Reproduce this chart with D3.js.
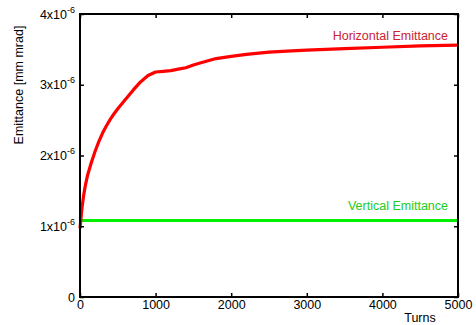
<html>
<head>
<script src="https://d3js.org/d3.v7.min.js"></script>
<style>
body { margin: 0; background: #fff; }
text { font-family: "Liberation Sans", Arial, sans-serif; }
</style>
</head>
<body>
<div id="chart"></div>
<script>
// Data (emittance in units of 1e-6 mm mrad)
var turns = [0, 25, 50, 75, 100, 150, 200, 250, 300, 350, 400, 450, 500, 600, 700, 800, 900, 1000, 1100, 1200, 1300, 1400, 1500, 1600, 1800, 2000, 2200, 2500, 2800, 3000, 3500, 4000, 4500, 5000];
var horizontal = [0.97, 1.25, 1.45, 1.60, 1.72, 1.90, 2.06, 2.20, 2.32, 2.42, 2.51, 2.59, 2.66, 2.79, 2.92, 3.04, 3.13, 3.18, 3.19, 3.20, 3.22, 3.24, 3.28, 3.31, 3.37, 3.40, 3.43, 3.46, 3.48, 3.49, 3.51, 3.53, 3.55, 3.56];
var vertical = [1.08, 1.08, 1.08, 1.08, 1.08, 1.08, 1.08, 1.08, 1.08, 1.08, 1.08, 1.08, 1.08, 1.08, 1.08, 1.08, 1.08, 1.08, 1.08, 1.08, 1.08, 1.08, 1.08, 1.08, 1.08, 1.08, 1.08, 1.08, 1.08, 1.08, 1.08, 1.08, 1.08, 1.08];
var xTicks = [0, 1000, 2000, 3000, 4000, 5000];
var yTicks = [0, 1, 2, 3, 4];

var W = 476, H = 325;
var mLeft = 80, mRight = 458, mTop = 14, mBottom = 297;
var fs = 12.5;

var svg = d3.select("#chart").append("svg")
	.attr("width", W)
	.attr("height", H);

var x = d3.scaleLinear().domain([0, 5000]).range([mLeft, mRight]);
var y = d3.scaleLinear().domain([0, 4]).range([mBottom, mTop]);

// lines
var line = function(vals) {
	return d3.line()
		.x(function(d, i) { return x(turns[i]); })
		.y(function(d) { return y(d); })(vals);
};
svg.append("path")
	.attr("d", line(vertical))
	.attr("fill", "none")
	.attr("stroke", "#00ee00")
	.attr("stroke-width", 3);
svg.append("path")
	.attr("d", line(horizontal))
	.attr("fill", "none")
	.attr("stroke", "#ff0000")
	.attr("stroke-width", 3.2)
	.attr("stroke-linejoin", "round");

// frame with inward ticks
var tl = 4;
svg.append("g").attr("transform", "translate(0," + mBottom + ")")
	.call(d3.axisBottom(x).tickValues(xTicks).tickSizeInner(-tl).tickSizeOuter(0).tickPadding(3.5).tickFormat(d3.format("d")))
	.call(function(g) { g.select(".domain").remove(); });
svg.append("g").attr("transform", "translate(0," + mTop + ")")
	.call(d3.axisTop(x).tickValues(xTicks).tickSizeInner(-tl).tickSizeOuter(0).tickFormat(""))
	.call(function(g) { g.select(".domain").remove(); });
svg.append("g").attr("transform", "translate(" + mLeft + ",0)")
	.call(d3.axisLeft(y).tickValues(yTicks).tickSizeInner(-tl).tickSizeOuter(0).tickFormat(""))
	.call(function(g) { g.select(".domain").remove(); });
svg.append("g").attr("transform", "translate(" + mRight + ",0)")
	.call(d3.axisRight(y).tickValues(yTicks).tickSizeInner(-tl).tickSizeOuter(0).tickFormat(""))
	.call(function(g) { g.select(".domain").remove(); });
svg.selectAll(".tick line").attr("stroke", "#000").attr("stroke-width", 1.5);
svg.selectAll(".tick text").attr("font-size", fs).attr("fill", "#000")
	.attr("font-family", "Liberation Sans, Arial, sans-serif");

svg.append("rect")
	.attr("x", mLeft).attr("y", mTop)
	.attr("width", mRight - mLeft).attr("height", mBottom - mTop)
	.attr("fill", "none").attr("stroke", "#000").attr("stroke-width", 2);

// y tick labels with superscript
yTicks.forEach(function(v) {
	var t = svg.append("text")
		.attr("x", mLeft - 5)
		.attr("y", y(v) + 4.5)
		.attr("text-anchor", "end")
		.attr("font-size", fs);
	if (v == 0) {
		t.text("0");
	} else {
		t.append("tspan").text(v + "x10");
		t.append("tspan").attr("dy", -6).attr("font-size", 9).text("-6");
	}
});

// axis labels
svg.append("text")
	.attr("transform", "translate(23,85) rotate(-90)")
	.attr("text-anchor", "middle")
	.attr("font-size", fs)
	.text("Emittance [mm mrad]");
svg.append("text")
	.attr("x", 420).attr("y", 322)
	.attr("text-anchor", "middle")
	.attr("font-size", fs)
	.text("Turns");

// series labels
svg.append("text")
	.attr("x", 448).attr("y", 40)
	.attr("text-anchor", "end")
	.attr("font-size", fs)
	.attr("fill", "#cc2233")
	.text("Horizontal Emittance");
svg.append("text")
	.attr("x", 448).attr("y", 210)
	.attr("text-anchor", "end")
	.attr("font-size", fs)
	.attr("fill", "#22cc22")
	.text("Vertical Emittance");
</script>
</body>
</html>
